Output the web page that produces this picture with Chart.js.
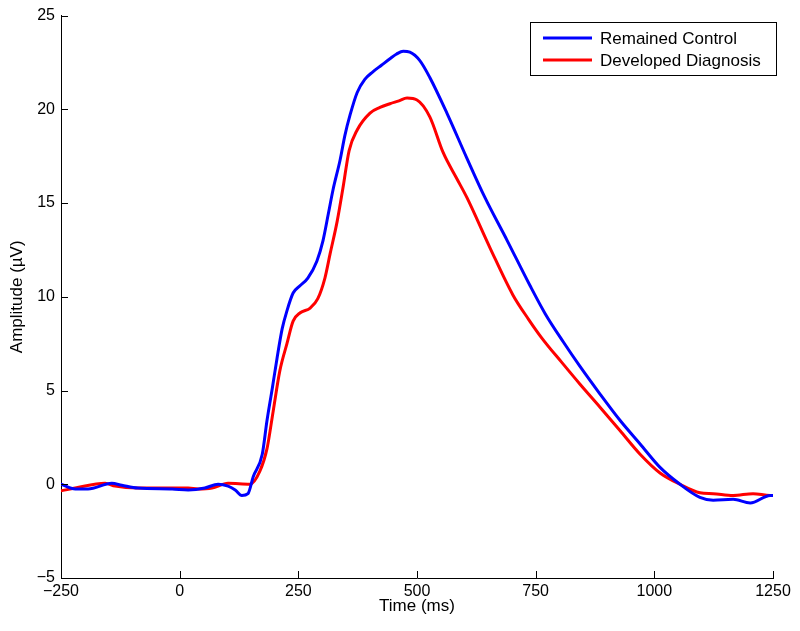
<!DOCTYPE html>
<html><head><meta charset="utf-8">
<script src="https://cdn.jsdelivr.net/npm/chart.js@4.4.0/dist/chart.umd.min.js"></script>
<style>html,body{margin:0;padding:0;background:#fff}#wrap{width:800px;height:631px}</style>
</head><body><div id="wrap"><canvas id="c" width="800" height="631"></canvas></div>
<script>
const seriesLabels = ['Remained Control', 'Developed Diagnosis'];
const xTicks = [-250, 0, 250, 500, 750, 1000, 1250];
const yTicks = [-5, 0, 5, 10, 15, 20, 25];

const controlTime = [-250,-220,-193,-143,-122,-88,-16,18,53,81,102,117,131,144,155,174,184,195,205,216,226,239,254,270,289,302,313,323,338,348,359,374,390,407,425,443,457,471,485,506,527,563,605,643,690,738,770,808,843,886,928,970,1012,1054,1096,1124,1166,1202,1244,1250];
const controlAmp  = [0.0,-0.25,-0.25,0.05,-0.05,-0.2,-0.25,-0.3,-0.2,0.0,-0.1,-0.3,-0.6,-0.5,0.4,1.6,3.4,5.1,6.7,8.3,9.25,10.2,10.6,11.0,11.9,13.0,14.4,15.7,17.3,18.6,19.7,20.9,21.6,22.0,22.35,22.7,22.95,23.1,23.05,22.6,21.7,19.8,17.4,15.3,13.0,10.6,9.1,7.6,6.3,4.8,3.4,2.15,0.9,0.0,-0.7,-0.85,-0.8,-1.0,-0.6,-0.6];

const diagnosisTime = [-250,-220,-157,-136,-88,18,39,68,102,148,169,184,197,211,226,239,254,275,291,306,317,332,344,357,374,401,422,443,462,479,500,527,555,584,605,654,702,735,763,805,843,886,928,970,1012,1054,1096,1124,1166,1208,1244,1250];
const diagnosisAmp  = [-0.35,-0.2,0.05,-0.1,-0.2,-0.2,-0.25,-0.2,0.05,0.0,0.7,1.9,3.9,6.05,7.5,8.7,9.15,9.4,9.9,11.0,12.3,14.05,15.8,17.8,18.9,19.8,20.1,20.3,20.45,20.6,20.5,19.6,17.7,16.3,15.3,12.6,10.1,8.8,7.8,6.5,5.35,4.1,2.85,1.6,0.6,0.0,-0.45,-0.5,-0.6,-0.5,-0.6,-0.6];

const seriesColors = ['#0000ff', '#ff0000'];
const FONT = '"Liberation Sans", Arial, sans-serif';

function pts(ts, vs) { return ts.map((t, i) => ({x: t, y: vs[i]})); }
function fmt(v) { return String(v).replace('-', '\u2212'); }

const inwardTicks = {
  id: 'inwardTicks',
  afterDatasetsDraw(chart) {
    const {ctx, chartArea: a, scales: {x, y}} = chart;
    ctx.save();
    ctx.strokeStyle = '#000';
    ctx.lineWidth = 1;
    ctx.beginPath();
    x.ticks.forEach(t => {
      const px = Math.round(x.getPixelForValue(t.value)) + 0.5;
      ctx.moveTo(px, a.bottom); ctx.lineTo(px, a.bottom - 7);
    });
    y.ticks.forEach(t => {
      const py = Math.round(y.getPixelForValue(t.value)) + 0.5;
      ctx.moveTo(a.left, py); ctx.lineTo(a.left + 7, py);
    });
    ctx.stroke();
    ctx.restore();
  }
};

const boxLegend = {
  id: 'boxLegend',
  afterDraw(chart) {
    const {ctx} = chart;
    const bx = 530.5, by = 22.5, bw = 246, bh = 53;
    ctx.save();
    ctx.fillStyle = '#fff';
    ctx.fillRect(bx, by, bw, bh);
    ctx.strokeStyle = '#000';
    ctx.lineWidth = 1;
    ctx.strokeRect(bx, by, bw, bh);
    ctx.font = '17px ' + FONT;
    ctx.textBaseline = 'middle';
    ctx.textAlign = 'left';
    chart.data.datasets.forEach((ds, i) => {
      const yy = by + 15.5 + i * 22;
      ctx.strokeStyle = ds.borderColor;
      ctx.lineWidth = 3;
      ctx.beginPath();
      ctx.moveTo(543, yy); ctx.lineTo(592, yy);
      ctx.stroke();
      ctx.fillStyle = '#000';
      ctx.fillText(ds.label, 600, yy + 1);
    });
    ctx.restore();
  }
};

new Chart(document.getElementById('c'), {
  type: 'line',
  data: {
    datasets: [
      {label: seriesLabels[0], data: pts(controlTime, controlAmp), borderColor: seriesColors[0]},
      {label: seriesLabels[1], data: pts(diagnosisTime, diagnosisAmp), borderColor: seriesColors[1]}
    ]
  },
  options: {
    responsive: false,
    animation: false,
    devicePixelRatio: 1,
    parsing: false,
    elements: {
      point: {radius: 0},
      line: {borderWidth: 3, cubicInterpolationMode: 'monotone', fill: false, borderCapStyle: 'round', borderJoinStyle: 'round'}
    },
    layout: {padding: {top: 15, right: 27, left: 0, bottom: 0}},
    plugins: {legend: {display: false}, tooltip: {enabled: false}},
    scales: {
      x: {
        type: 'linear', min: -250, max: 1250,
        afterBuildTicks: s => { s.ticks = xTicks.map(v => ({value: v})); },
        afterFit: s => { s.height = 53; },
        grid: {display: false, drawTicks: false},
        border: {display: true, color: '#000', width: 1},
        ticks: {padding: 4, color: '#000', font: {family: FONT, size: 16}, callback: v => fmt(v), maxRotation: 0, autoSkip: false},
        title: {display: true, text: 'Time (ms)', color: '#000', font: {family: FONT, size: 17}, padding: {top: 0, bottom: 14}}
      },
      y: {
        type: 'linear', min: -5, max: 25,
        afterBuildTicks: s => { s.ticks = yTicks.map(v => ({value: v})); },
        afterFit: s => { s.width = 61; },
        grid: {display: false, drawTicks: false},
        border: {display: true, color: '#000', width: 1},
        ticks: {padding: 6, color: '#000', font: {family: FONT, size: 16}, callback: v => fmt(v), autoSkip: false},
        title: {display: true, text: 'Amplitude (\u00b5V)', color: '#000', font: {family: FONT, size: 17}, padding: {top: 7, bottom: 0}}
      }
    }
  },
  plugins: [inwardTicks, boxLegend]
});
</script>
</body></html>
